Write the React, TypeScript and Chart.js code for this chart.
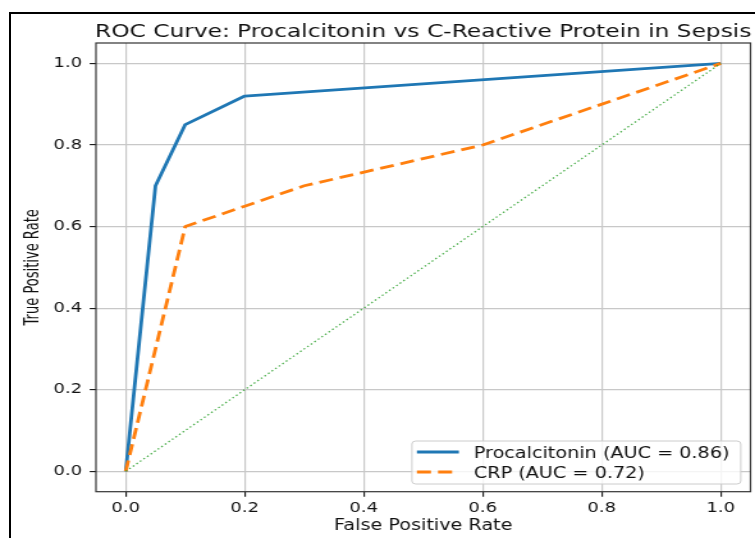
import React, { useEffect, useRef } from "react";
import { Chart, registerables } from "chart.js";

Chart.register(...registerables);

// ---- data ----
const fprProcalcitonin = [0, 0.05, 0.1, 0.2, 1.0];
const tprProcalcitonin = [0, 0.7, 0.85, 0.92, 1.0];
const fprCRP = [0, 0.1, 0.2, 0.3, 0.6, 1.0];
const tprCRP = [0, 0.6, 0.65, 0.7, 0.8, 1.0];
const chanceX = [0, 1];
const chanceY = [0, 1];
const xTicks = [0, 0.2, 0.4, 0.6, 0.8, 1.0];
const yTicks = [0, 0.2, 0.4, 0.6, 0.8, 1.0];
const seriesLabels = ["Procalcitonin (AUC = 0.86)", "CRP (AUC = 0.72)"];
const titleText = "ROC Curve: Procalcitonin vs C-Reactive Protein in Sepsis";
const xLabel = "False Positive Rate";
const yLabel = "True Positive Rate";

// ---- layout (internal canvas units; canvas is stretched horizontally) ----
const IW = 590;
const IH = 538;
const FONT = '"DejaVu Sans", sans-serif';
const BLUE = "#1f77b4";
const ORANGE = "#ff7f0e";
const GREEN = "rgba(44,160,44,0.85)";
const DASH = [11, 5.5];

const toPts = (xs: number[], ys: number[]) => xs.map((x, i) => ({ x, y: ys[i] }));

const decor = {
  id: "decor",
  afterDatasetsDraw(chart: any) {
    const { ctx, chartArea: a } = chart;
    ctx.save();
    ctx.strokeStyle = "#333";
    ctx.lineWidth = 1.2;
    ctx.strokeRect(a.left, a.top, a.right - a.left, a.bottom - a.top);
    ctx.restore();
  },
  afterDraw(chart: any) {
    const { ctx, chartArea: a } = chart;
    const cx = (a.left + a.right) / 2;
    ctx.save();
    ctx.fillStyle = "#111";
    // title
    ctx.font = `18.2px ${FONT}`;
    ctx.textAlign = "center";
    ctx.textBaseline = "alphabetic";
    ctx.fillText(titleText, cx, 36.5);
    // x label
    ctx.font = `15px ${FONT}`;
    ctx.fillText(xLabel, cx, 529.5);
    // y label
    ctx.save();
    ctx.translate(25.4, (a.top + a.bottom) / 2);
    ctx.rotate(-Math.PI / 2);
    ctx.scale(0.816, 1);
    ctx.font = `16px ${FONT}`;
    ctx.textBaseline = "middle";
    ctx.fillText(yLabel, 0, 0);
    ctx.restore();

    // legend
    const L = 321.9, R = 578.9, T = 441, B = 484;
    ctx.beginPath();
    (ctx as any).roundRect(L, T, R - L, B - T, 3);
    ctx.fillStyle = "rgba(255,255,255,0.8)";
    ctx.fill();
    ctx.strokeStyle = "#cccccc";
    ctx.lineWidth = 1;
    ctx.stroke();

    const rows = [452, 472];
    const colors = [BLUE, ORANGE];
    rows.forEach((ry, i) => {
      ctx.save();
      ctx.beginPath();
      ctx.strokeStyle = colors[i];
      ctx.lineWidth = 2.8;
      ctx.setLineDash(i === 1 ? DASH : []);
      ctx.moveTo(325.8, ry);
      ctx.lineTo(358.6, ry);
      ctx.stroke();
      ctx.restore();
      ctx.fillStyle = "#111";
      ctx.font = `15px ${FONT}`;
      ctx.textAlign = "left";
      ctx.textBaseline = "alphabetic";
      ctx.fillText(seriesLabels[i], 370.3, ry + 5.5);
    });
    ctx.restore();
  },
};

export default function App() {
  const ref = useRef<HTMLCanvasElement>(null);
  useEffect(() => {
    const tickFont = { family: FONT, size: 14 };
    const chart = new Chart(ref.current as HTMLCanvasElement, {
      type: "scatter",
      data: {
        datasets: [
          {
            label: seriesLabels[0],
            data: toPts(fprProcalcitonin, tprProcalcitonin),
            showLine: true,
            borderColor: BLUE,
            backgroundColor: BLUE,
            borderWidth: 2.8,
            pointRadius: 0,
            tension: 0,
            borderJoinStyle: "round",
            order: 3,
          },
          {
            label: seriesLabels[1],
            data: toPts(fprCRP, tprCRP),
            showLine: true,
            borderColor: ORANGE,
            backgroundColor: ORANGE,
            borderWidth: 2.8,
            borderDash: DASH,
            pointRadius: 0,
            tension: 0,
            borderJoinStyle: "round",
            order: 2,
          },
          {
            label: "chance",
            data: toPts(chanceX, chanceY),
            showLine: true,
            borderColor: GREEN,
            backgroundColor: GREEN,
            borderWidth: 1.3,
            borderDash: [1.4, 2.3],
            pointRadius: 0,
            tension: 0,
            order: 1,
          },
        ],
      },
      options: {
        animation: false,
        responsive: false,
        events: [],
        layout: { padding: { top: 43, right: 3.5, left: 0, bottom: 0 } },
        plugins: {
          legend: { display: false },
          title: { display: false },
          tooltip: { enabled: false },
        },
        scales: {
          x: {
            type: "linear",
            min: -0.05,
            max: 1.05,
            afterBuildTicks: (s: any) => {
              s.ticks = xTicks.map((v) => ({ value: v }));
            },
            afterFit: (s: any) => {
              s.height = IH - 491.7;
            },
            ticks: {
              font: tickFont,
              color: "#111",
              padding: 3,
              maxRotation: 0,
              autoSkip: false,
              callback: (v: any) => Number(v).toFixed(1),
            },
            grid: {
              color: "#c8c8c8",
              lineWidth: 1.2,
              tickColor: "#111",
              tickLength: 5,
              tickWidth: 1.1,
            },
            border: { display: false },
          },
          y: {
            type: "linear",
            min: -0.05,
            max: 1.05,
            afterBuildTicks: (s: any) => {
              s.ticks = yTicks.map((v) => ({ value: v }));
            },
            afterFit: (s: any) => {
              s.width = 75;
            },
            ticks: {
              font: tickFont,
              color: "#111",
              padding: 6,
              autoSkip: false,
              callback: (v: any) => Number(v).toFixed(1),
            },
            grid: {
              color: "#c8c8c8",
              lineWidth: 1.2,
              tickColor: "#111",
              tickLength: 4.9,
              tickWidth: 1.1,
            },
            border: { display: false },
          },
        },
      },
      plugins: [decor],
    } as any);
    return () => chart.destroy();
  }, []);

  return (
    <div
      style={{
        position: "fixed",
        left: 0,
        top: 0,
        width: 755,
        height: 538,
        overflow: "hidden",
        background: "#fff",
      }}
    >
      <canvas
        ref={ref}
        width={IW}
        height={IH}
        style={{ position: "absolute", left: 0, top: 0, width: "755px", height: "538px" }}
      />
      <div
        style={{
          position: "absolute",
          left: 9,
          top: 12,
          width: 800,
          height: 600,
          borderLeft: "2px solid #000",
          borderTop: "2px solid #000",
        }}
      />
    </div>
  );
}
